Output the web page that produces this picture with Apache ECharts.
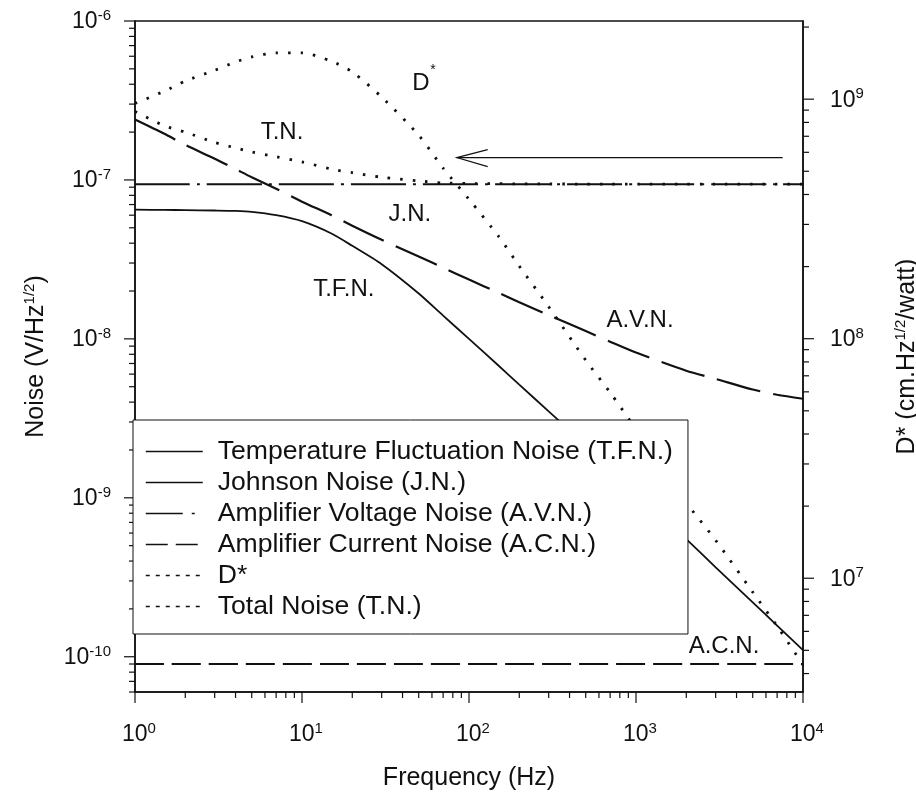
<!DOCTYPE html>
<html>
<head>
<meta charset="utf-8">
<style>
  html, body { margin: 0; padding: 0; background: #fff; }
  #chart { width: 916px; height: 796px; }
</style>
<script src="https://cdn.jsdelivr.net/npm/echarts@6/dist/echarts.min.js"></script>
</head>
<body>
<div id="chart"></div>
<script>
// Sampling frequencies (Hz) shared by the curved series
const freqHz = [1, 1.5, 2, 3, 4, 5, 7, 10, 15, 20, 30, 50, 70, 100, 150, 200, 300, 500, 700, 1000, 2000, 3000, 5000, 7000, 10000];

// Temperature fluctuation noise (V/Hz^1/2)
const tfnNoise = [6.5e-8, 6.48e-8, 6.46e-8, 6.42e-8, 6.38e-8, 6.3e-8, 6.0e-8, 5.5e-8, 4.6e-8, 3.85e-8, 2.95e-8, 1.93e-8, 1.4e-8, 1.0e-8, 6.8e-9, 5.15e-9, 3.5e-9, 2.15e-9, 1.55e-9, 1.09e-9, 5.5e-10, 3.65e-10, 2.2e-10, 1.57e-10, 1.1e-10];

// Amplifier voltage noise (V/Hz^1/2)
const avnNoise = [2.4e-7, 1.95e-7, 1.66e-7, 1.36e-7, 1.17e-7, 1.04e-7, 8.8e-8, 7.3e-8, 6.0e-8, 5.15e-8, 4.2e-8, 3.3e-8, 2.8e-8, 2.36e-8, 1.95e-8, 1.7e-8, 1.41e-8, 1.12e-8, 9.6e-9, 8.2e-9, 6.3e-9, 5.6e-9, 4.8e-9, 4.45e-9, 4.2e-9];

// Total noise (V/Hz^1/2)
const totalNoise = [2.7e-7, 2.19e-7, 2.0e-7, 1.72e-7, 1.59e-7, 1.5e-7, 1.4e-7, 1.3e-7, 1.17e-7, 1.11e-7, 1.04e-7, 9.86e-8, 9.57e-8, 9.5e-8, 9.47e-8, 9.45e-8, 9.43e-8, 9.42e-8, 9.41e-8, 9.4e-8, 9.4e-8, 9.4e-8, 9.4e-8, 9.4e-8, 9.4e-8];

// Detectivity D* (cm.Hz^1/2/watt)
const dStar = [9.6e8, 1.08e9, 1.19e9, 1.32e9, 1.43e9, 1.5e9, 1.56e9, 1.56e9, 1.44e9, 1.3e9, 1.02e9, 7.07e8, 5.15e8, 3.82e8, 2.68e8, 2.01e8, 1.36e8, 8.13e7, 5.96e7, 4.19e7, 2.07e7, 1.44e7, 8.75e6, 6.31e6, 4.34e6];

// Flat noise floors
const jnFreq = [1, 10000];
const jnNoise = [9.4e-8, 9.4e-8];
const acnFreq = [1, 10000];
const acnNoise = [9.0e-11, 9.0e-11];

// In-plot annotations (placed in frequency / noise coordinates)
const noteText  = ['D', '*', 'T.N.', 'J.N.', 'T.F.N.', 'A.V.N.', 'A.C.N.'];
const noteFreq  = [51.6, 60.9, 7.59, 44.3, 17.8, 1057, 3365];
const noteNoise = [4.07e-7, 4.92e-7, 2.0e-7, 6.03e-8, 2.06e-8, 1.30e-8, 1.17e-10];
const noteSize  = [24, 14, 24, 24, 24, 24, 24];

// Arrow pointing from the right toward the D* curve (D* axis)
const arrowFreq = [7556, 84.4];
const arrowDStar = [5.7e8, 5.7e8];

// Axis ranges
const FREQ_MIN = 1, FREQ_MAX = 10000;
const NOISE_MIN = 6e-11, NOISE_MAX = 1e-6;
const DSTAR_MIN = 3.35e6, DSTAR_MAX = 2.12e9;

const FONT = '"Liberation Sans", Arial, Helvetica, sans-serif';
const INK = '#111';

// Series names
const N_TFN = 'Temperature Fluctuation Noise (T.F.N.)';
const N_JN  = 'Johnson Noise (J.N.)';
const N_AVN = 'Amplifier Voltage Noise (A.V.N.)';
const N_ACN = 'Amplifier Current Noise (A.C.N.)';
const N_DS  = 'D*';
const N_TN  = 'Total Noise (T.N.)';

// Logarithmic tick positions (1..9 times each power of ten inside a range)
function logTicks(lo, hi) {
  const out = [];
  for (let e = Math.floor(Math.log10(lo)); e <= Math.ceil(Math.log10(hi)); e++) {
    for (let m = 1; m <= 9; m++) {
      const v = m * Math.pow(10, e);
      if (v >= lo * 0.999 && v <= hi * 1.001) out.push(v);
    }
  }
  return out;
}
function isDecade(v) {
  const l = Math.log10(v);
  return Math.abs(l - Math.round(l)) < 1e-6;
}
function pow10Label(v) {
  if (!isDecade(v)) return '';
  return '{b|10}{s|' + Math.round(Math.log10(v)) + '}';
}

const zip = (xs, ys) => xs.map((x, i) => [x, ys[i]]);

function lineSeries(name, xs, ys, style, yAxisIndex) {
  return {
    name: name, type: 'line', yAxisIndex: yAxisIndex || 0,
    data: zip(xs, ys), symbol: 'none', smooth: 0.25,
    lineStyle: Object.assign({ color: INK }, style),
    silent: true, z: 3
  };
}

// Axis tick marks drawn through the axis scales
function tickSeries(points, yAxisIndex, dir) {
  return {
    type: 'custom', yAxisIndex: yAxisIndex, silent: true, clip: false, z: 6,
    data: points,
    renderItem: function (params, api) {
      const x = api.value(0), y = api.value(1);
      const p = api.coord([x, y]);
      const v = dir === 'down' ? x : y;
      const len = isDecade(v) ? 11 : 6;
      let shape;
      if (dir === 'down') shape = { x1: p[0], y1: p[1], x2: p[0], y2: p[1] + len };
      else if (dir === 'left') shape = { x1: p[0], y1: p[1], x2: p[0] - len, y2: p[1] };
      else shape = { x1: p[0], y1: p[1], x2: p[0] + len, y2: p[1] };
      return { type: 'line', shape: shape, style: { stroke: INK, lineWidth: 1.2 } };
    }
  };
}

const xTickPts = logTicks(FREQ_MIN, FREQ_MAX).map(v => [v, NOISE_MIN]);
const yTickPts = logTicks(NOISE_MIN, NOISE_MAX).map(v => [FREQ_MIN, v]);
const y2TickPts = logTicks(DSTAR_MIN, DSTAR_MAX).map(v => [FREQ_MAX, v]);

const labelRich = {
  b: { fontFamily: FONT, fontSize: 23, color: INK, verticalAlign: 'bottom' },
  s: { fontFamily: FONT, fontSize: 15, color: INK, verticalAlign: 'bottom', padding: [0, 0, 10, 0] }
};
const xLabelRich = {
  b: Object.assign({}, labelRich.b, { padding: [0, 0, 0, 8] }),
  s: labelRich.s
};
const nameRich = {
  n: { fontFamily: FONT, fontSize: 25, color: INK, verticalAlign: 'bottom' },
  s: { fontFamily: FONT, fontSize: 15, color: INK, verticalAlign: 'bottom', padding: [0, 0, 12, 0] }
};

const chart = echarts.init(document.getElementById('chart'), null, { renderer: 'canvas' });

const option = {
  animation: false,
  backgroundColor: '#fff',
  grid: {
    left: 135, right: 113, top: 21, bottom: 104,
    containLabel: false, outerBoundsMode: 'none',
    show: true, borderColor: INK, borderWidth: 1.5, backgroundColor: 'transparent'
  },
  xAxis: {
    type: 'log', logBase: 10, min: FREQ_MIN, max: FREQ_MAX,
    axisLine: { show: true, lineStyle: { color: INK, width: 1.5 } },
    axisTick: { show: false },
    splitLine: { show: false },
    minorSplitLine: { show: false },
    axisLabel: { formatter: pow10Label, rich: xLabelRich, margin: 29, showMinLabel: true, showMaxLabel: true },
    name: '{n|Frequency (Hz)}',
    nameLocation: 'middle', nameGap: 74,
    nameTextStyle: { rich: nameRich }
  },
  yAxis: [
    {
      type: 'log', logBase: 10, min: NOISE_MIN, max: NOISE_MAX,
      axisLine: { show: true, onZero: false, lineStyle: { color: INK, width: 1.5 } },
      axisTick: { show: false },
      splitLine: { show: false },
      axisLabel: { formatter: pow10Label, rich: labelRich, margin: 24, showMinLabel: true, showMaxLabel: true },
      name: '{n|Noise (V/Hz}{s|1/2}{n|)}',
      nameLocation: 'middle', nameGap: 86,
      nameTextStyle: { rich: nameRich }
    },
    {
      type: 'log', logBase: 10, min: DSTAR_MIN, max: DSTAR_MAX, position: 'right',
      axisLine: { show: true, onZero: false, lineStyle: { color: INK, width: 1.5 } },
      axisTick: { show: false },
      splitLine: { show: false },
      axisLabel: { formatter: pow10Label, rich: labelRich, margin: 27, showMinLabel: true, showMaxLabel: true },
      name: '{n|D* (cm.Hz}{s|1/2}{n|/watt)}',
      nameLocation: 'middle', nameGap: 90,
      nameTextStyle: { rich: nameRich }
    }
  ],
  legend: {
    orient: 'vertical', left: 133, top: 420, z: 20,
    backgroundColor: '#fff', borderColor: INK, borderWidth: 1, borderRadius: 0,
    padding: [18, 15, 14, 12],
    itemWidth: 57, itemHeight: 14, itemGap: 4,
    selectedMode: false,
    itemStyle: { color: 'rgba(0,0,0,0)', borderWidth: 0, opacity: 0 },
    textStyle: { fontFamily: FONT, fontSize: 26.6, color: INK, lineHeight: 26, padding: [0, 0, 0, 10] },
    data: [
      { name: N_TFN, lineStyle: { type: 'solid', width: 1.5 } },
      { name: N_JN,  lineStyle: { type: 'solid', width: 1.5 } },
      { name: N_AVN, lineStyle: { type: [37, 9, 3, 20], width: 1.5 } },
      { name: N_ACN, lineStyle: { type: [22, 8], width: 1.5 } },
      { name: N_DS,  lineStyle: { type: [4, 6], width: 1.5 } },
      { name: N_TN,  lineStyle: { type: [4, 6], width: 1.5 } }
    ]
  },
  series: [
    lineSeries(N_TFN, freqHz, tfnNoise, { width: 1.8, type: 'solid' }),
    lineSeries(N_JN, jnFreq, jnNoise, { width: 2, type: [55, 7, 3, 7] }),
    lineSeries(N_AVN, freqHz, avnNoise, { width: 2.2, type: [45, 13] }),
    lineSeries(N_ACN, acnFreq, acnNoise, { width: 2.2, type: [29, 8] }),
    lineSeries(N_DS, freqHz, dStar, { width: 2.8, type: [2.5, 10] }, 1),
    lineSeries(N_TN, freqHz, totalNoise, { width: 2.8, type: [2.5, 10] }),
    tickSeries(xTickPts, 0, 'down'),
    tickSeries(yTickPts, 0, 'left'),
    tickSeries(y2TickPts, 1, 'right'),
    {
      // curve labels inside the plot
      type: 'custom', yAxisIndex: 0, silent: true, clip: false, z: 8,
      data: zip(noteFreq, noteNoise),
      renderItem: function (params, api) {
        const p = api.coord([api.value(0), api.value(1)]);
        const i = params.dataIndex;
        return {
          type: 'text', x: p[0], y: p[1],
          style: {
            text: noteText[i], fill: INK,
            font: noteSize[i] + 'px ' + FONT,
            align: 'center', verticalAlign: 'middle'
          }
        };
      }
    },
    {
      // open arrow pointing at the D* curve
      type: 'custom', yAxisIndex: 1, silent: true, clip: false, z: 8,
      data: [[arrowFreq[0], arrowDStar[0], arrowFreq[1], arrowDStar[1]]],
      renderItem: function (params, api) {
        const a = api.coord([api.value(0), api.value(1)]);
        const b = api.coord([api.value(2), api.value(3)]);
        const st = { stroke: INK, lineWidth: 1.1, fill: null };
        return {
          type: 'group',
          children: [
            { type: 'line', shape: { x1: a[0], y1: a[1], x2: b[0], y2: b[1] }, style: st },
            { type: 'polyline', shape: { points: [[b[0] + 31, b[1] - 8], [b[0], b[1]], [b[0] + 31, b[1] + 9]] }, style: st }
          ]
        };
      }
    }
  ]
};

chart.setOption(option);
</script>
</body>
</html>
